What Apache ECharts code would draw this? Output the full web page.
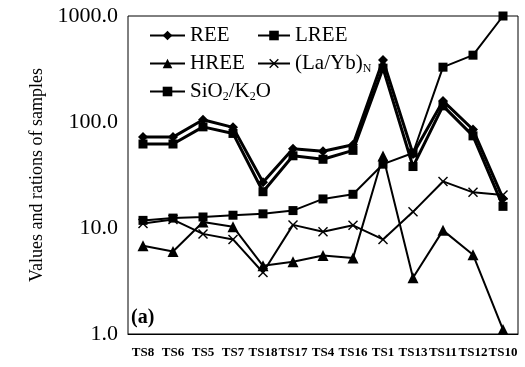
<!DOCTYPE html>
<html>
<head>
<meta charset="utf-8">
<script src="https://cdn.jsdelivr.net/npm/echarts@6/dist/echarts.min.js"></script>
<style>
html,body{margin:0;padding:0;background:#fff;}
#chart{width:525px;height:367px;}
</style>
</head>
<body>
<div id="chart"></div>
<script>
var categories = ['TS8','TS6','TS5','TS7','TS18','TS17','TS4','TS16','TS1','TS13','TS11','TS12','TS10'];
var ree    = [72, 72, 105, 89, 27, 56, 53, 61, 384, 50, 158, 85, 19];
var lree   = [62, 62, 90, 78, 22, 48, 44.5, 54, 322, 38, 142, 74, 16];
var hree   = [6.8, 6.0, 11.4, 10.3, 4.4, 4.8, 5.5, 5.2, 47.7, 3.4, 9.5, 5.6, 1.1];
var laybN  = [11, 12, 8.8, 7.8, 3.8, 10.7, 9.2, 10.6, 7.8, 14.2, 27.5, 21.7, 20.5];
var sioK   = [11.8, 12.4, 12.7, 13.2, 13.6, 14.6, 18.8, 20.8, 40, 51, 329, 427, 1000];
var yTicks = [1, 10, 100, 1000];

var serif = '"Liberation Serif", "DejaVu Serif", serif';
var xSym = 'path://M0,1 L1,0 L5,4 L9,0 L10,1 L6,5 L10,9 L9,10 L5,6 L1,10 L0,9 L4,5 Z';

function mk(name, data, symbol, size, width) {
    return {
        name: name,
        type: 'line',
        data: data,
        symbol: symbol,
        symbolSize: size,
        showSymbol: true,
        lineStyle: {color: '#000', width: width},
        itemStyle: {color: '#000'}
    };
}

var legendText = {
    fontFamily: serif,
    fontSize: 21,
    color: '#000',
    rich: {
        sub: {fontSize: 12, fontFamily: serif, color: '#000', verticalAlign: 'bottom', padding: [10, 0, 0, 0]}
    }
};
function fmt(n) {
    if (n === '(La/Yb)N') return '(La/Yb){sub|N}';
    if (n === 'SiO2/K2O') return 'SiO{sub|2}/K{sub|2}O';
    return n;
}

var option = {
    animation: false,
    grid: {left: 128, right: 7, top: 16, bottom: 33, show: true, borderColor: '#000', borderWidth: 1},
    legend: [{
        orient: 'vertical', left: 144, top: 20, itemGap: 7,
        itemWidth: 35, itemHeight: 12,
        data: ['REE', 'HREE', 'SiO2/K2O'],
        textStyle: legendText, formatter: fmt
    }, {
        orient: 'vertical', left: 252, top: 20, itemGap: 7,
        itemWidth: 32, itemHeight: 12,
        data: ['LREE', '(La/Yb)N'],
        textStyle: legendText, formatter: fmt
    }],
    xAxis: {
        type: 'category',
        data: categories,
        boundaryGap: true,
        axisLine: {lineStyle: {color: '#000', width: 1}},
        axisTick: {inside: true, length: 5, lineStyle: {color: '#000'}, interval: 0},
        axisLabel: {fontFamily: serif, fontSize: 13, fontWeight: 'bold', color: '#000', margin: 12, interval: 0}
    },
    yAxis: {
        type: 'log',
        logBase: 10,
        min: yTicks[0],
        max: yTicks[yTicks.length - 1],
        name: 'Values and rations of samples',
        nameLocation: 'middle',
        nameGap: 82,
        nameTextStyle: {fontFamily: serif, fontSize: 18, color: '#000'},
        axisLine: {lineStyle: {color: '#000', width: 1}},
        axisTick: {inside: true, length: 6, lineStyle: {color: '#000'}},
        splitLine: {show: false},
        axisLabel: {
            fontFamily: serif, fontSize: 22, color: '#000', margin: 10,
            formatter: function (v) { return v.toFixed(1); }
        }
    },
    graphic: [{
        type: 'text', left: 131, top: 308,
        style: {text: '(a)', font: 'bold 20px ' + serif, fill: '#000'}
    }],
    series: [
        mk('REE', ree, 'diamond', 10, 3),
        mk('LREE', lree, 'rect', 9, 3),
        mk('HREE', hree, 'triangle', 11, 2),
        mk('(La/Yb)N', laybN, xSym, 10, 2),
        mk('SiO2/K2O', sioK, 'rect', 9, 2)
    ]
};

var myChart = echarts.init(document.getElementById('chart'));
myChart.setOption(option);
</script>
</body>
</html>
